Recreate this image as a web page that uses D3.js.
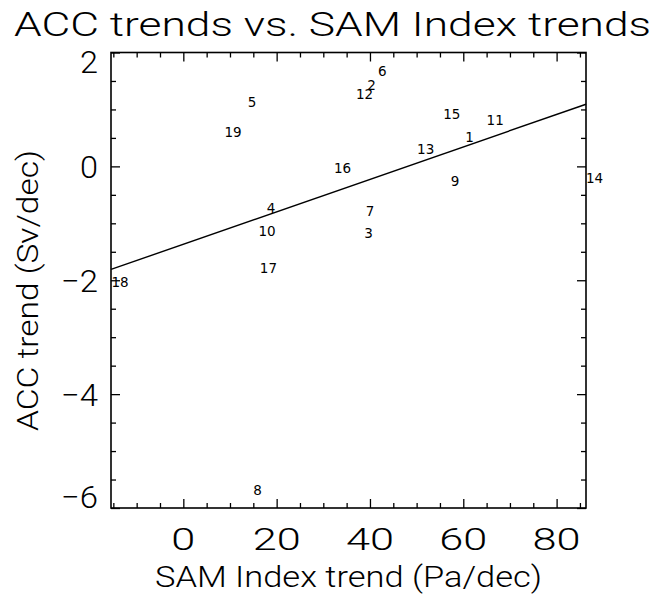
<!DOCTYPE html>
<html>
<head>
<meta charset="utf-8">
<script src="https://cdn.jsdelivr.net/npm/d3@7"></script>
<style>
  html, body { margin: 0; padding: 0; background: #fff; }
  text { font-family: Roboto, "DejaVu Sans", sans-serif; font-weight: 300; fill: #000; }
  text.pt { font-family: "DejaVu Sans", sans-serif; font-weight: 400; }
</style>
</head>
<body>
<svg id="chart" width="653" height="597"></svg>
<script>
// ---- data ----
const modelIds = [1, 2, 3, 4, 5, 6, 7, 8, 9, 10, 11, 12, 13, 14, 15, 16, 17, 18, 19];
const samTrend = [60.4, 39.4, 38.8, 17.9, 13.8, 41.7, 39.1, 15.0, 57.3, 16.1, 65.0, 37.0, 50.1, 86.3, 55.7, 32.3, 16.4, -15.4, 8.8];
const accTrend = [0.42, 1.34, -1.26, -0.82, 1.05, 1.58, -0.88, -5.77, -0.34, -1.23, 0.73, 1.18, 0.22, -0.29, 0.83, -0.11, -1.88, -2.11, 0.52];
const fitIntercept = -1.368;
const fitSlope = 0.0285;
const xMajorTicks = [0, 20, 40, 60, 80];
const yMajorTicks = [-6, -4, -2, 0, 2];
const xDomain = [-15.5, 86.3];
const yDomain = [-6, 2];
const titleText = "ACC trends vs. SAM Index trends";
const xTitle = "SAM Index trend (Pa/dec)";
const yTitle = "ACC trend (Sv/dec)";

// ---- layout ----
const L = 111, R = 586, T = 52.5, B = 508;
const svg = d3.select("#chart");
const x = d3.scaleLinear().domain(xDomain).range([L, R]);
const y = d3.scaleLinear().domain(yDomain).range([B, T]);

const xMinor = d3.range(-15, 86, 5).filter(v => !xMajorTicks.includes(v));
const yMinor = d3.range(-6, 2.01, 0.5).filter(v => !yMajorTicks.includes(v));

function styleAxis(g) {
  g.select(".domain").remove();
  g.selectAll(".tick line").attr("stroke", "#000").attr("stroke-width", 1.3);
  g.selectAll(".tick text").remove();
}
// bottom
svg.append("g").attr("transform", `translate(0,${B})`)
  .call(d3.axisTop(x).tickValues(xMajorTicks).tickSize(9)).call(styleAxis);
svg.append("g").attr("transform", `translate(0,${B})`)
  .call(d3.axisTop(x).tickValues(xMinor).tickSize(5)).call(styleAxis);
// top
svg.append("g").attr("transform", `translate(0,${T})`)
  .call(d3.axisBottom(x).tickValues(xMajorTicks).tickSize(9)).call(styleAxis);
svg.append("g").attr("transform", `translate(0,${T})`)
  .call(d3.axisBottom(x).tickValues(xMinor).tickSize(5)).call(styleAxis);
// left
svg.append("g").attr("transform", `translate(${L},0)`)
  .call(d3.axisRight(y).tickValues(yMajorTicks).tickSize(9)).call(styleAxis);
svg.append("g").attr("transform", `translate(${L},0)`)
  .call(d3.axisRight(y).tickValues(yMinor).tickSize(5)).call(styleAxis);
// right
svg.append("g").attr("transform", `translate(${R},0)`)
  .call(d3.axisLeft(y).tickValues(yMajorTicks).tickSize(9)).call(styleAxis);
svg.append("g").attr("transform", `translate(${R},0)`)
  .call(d3.axisLeft(y).tickValues(yMinor).tickSize(5)).call(styleAxis);

// frame
svg.append("rect").attr("x", L).attr("y", T).attr("width", R - L).attr("height", B - T)
  .attr("fill", "none").attr("stroke", "#000").attr("stroke-width", 1.6);

// x tick labels
svg.append("g").selectAll("text").data(xMajorTicks).join("text")
  .attr("x", d => x(d)).attr("y", 550)
  .attr("text-anchor", "middle")
  .attr("font-size", 31)
  .attr("textLength", d => String(d).length * 24)
  .attr("lengthAdjust", "spacingAndGlyphs")
  .text(d => String(d));

// y tick labels
svg.append("g").selectAll("text").data(yMajorTicks).join("text")
  .attr("x", 98)
  .attr("y", d => {
    if (d === yDomain[1]) return y(d) + 20;
    if (d === yDomain[0]) return y(d);
    return y(d) + 11.5;
  })
  .attr("text-anchor", "end")
  .attr("font-size", 31)
  .attr("textLength", d => d < 0 ? 37 : 18)
  .attr("lengthAdjust", "spacingAndGlyphs")
  .text(d => d < 0 ? "\u2212" + Math.abs(d) : String(d));

// fit line
svg.append("line")
  .attr("x1", x(xDomain[0])).attr("y1", y(fitIntercept + fitSlope * xDomain[0]))
  .attr("x2", x(xDomain[1])).attr("y2", y(fitIntercept + fitSlope * xDomain[1]))
  .attr("stroke", "#000").attr("stroke-width", 1.4);

// point labels (left aligned, baseline at point)
svg.append("g").selectAll("text").data(modelIds).join("text")
  .attr("class", "pt")
  .attr("x", (d, i) => x(samTrend[i]))
  .attr("y", (d, i) => y(accTrend[i]))
  .attr("font-size", 13.5)
  .text(d => String(d));

// titles
svg.append("text").attr("x", 14).attr("y", 36)
  .attr("font-size", 34)
  .attr("textLength", 637).attr("lengthAdjust", "spacingAndGlyphs")
  .text(titleText);

svg.append("text").attr("x", 155).attr("y", 587)
  .attr("font-size", 29)
  .attr("textLength", 387).attr("lengthAdjust", "spacingAndGlyphs")
  .text(xTitle);

svg.append("text")
  .attr("transform", "translate(38,431) rotate(-90)")
  .attr("font-size", 29)
  .attr("textLength", 281).attr("lengthAdjust", "spacingAndGlyphs")
  .text(yTitle);
</script>
</body>
</html>
